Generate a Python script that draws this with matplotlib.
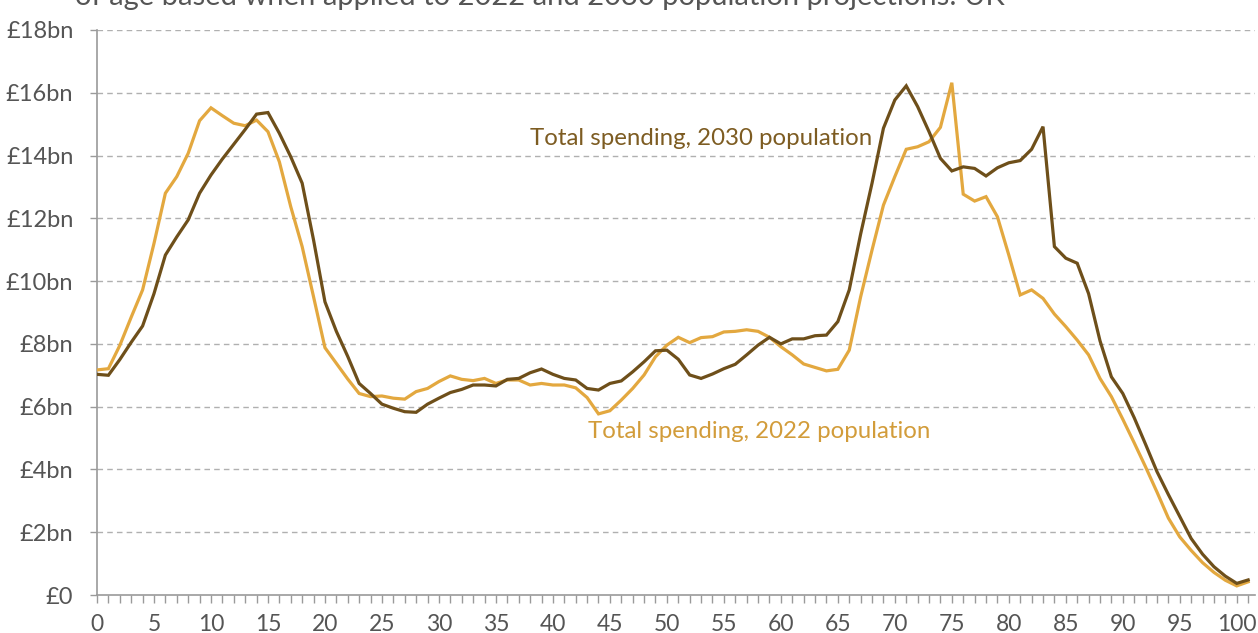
import matplotlib
matplotlib.use("Agg")
import matplotlib.pyplot as plt
import numpy as np

ages = list(range(0, 102))

spend_2030 = [7.03, 7.0, 7.5, 8.05, 8.57, 9.6, 10.83, 11.41, 11.95, 12.8,
              13.38, 13.89, 14.36, 14.83, 15.32, 15.37, 14.71, 13.96, 13.12, 11.31,
              9.34, 8.4, 7.6, 6.74, 6.42, 6.08, 5.95, 5.84, 5.82, 6.08,
              6.27, 6.45, 6.55, 6.69, 6.69, 6.66, 6.87, 6.9, 7.08, 7.2,
              7.03, 6.9, 6.85, 6.58, 6.53, 6.74, 6.82, 7.11, 7.43, 7.78,
              7.8, 7.51, 7.01, 6.9, 7.04, 7.21, 7.35, 7.65, 7.96, 8.21,
              8.0, 8.16, 8.16, 8.26, 8.28, 8.71, 9.72, 11.5, 13.12, 14.87,
              15.77, 16.22, 15.56, 14.76, 13.91, 13.51, 13.64, 13.59, 13.35, 13.61,
              13.77, 13.84, 14.2, 14.92, 11.1, 10.73, 10.57, 9.6, 8.1, 6.95,
              6.42, 5.65, 4.8, 3.93, 3.2, 2.5, 1.8, 1.3, 0.9, 0.6,
              0.37, 0.48]

spend_2022 = [7.17, 7.21, 7.95, 8.85, 9.72, 11.2, 12.8, 13.33, 14.07, 15.11,
              15.52, 15.27, 15.03, 14.95, 15.13, 14.76, 13.8, 12.37, 11.1, 9.5,
              7.88, 7.38, 6.88, 6.42, 6.32, 6.34, 6.27, 6.24, 6.48, 6.58,
              6.8, 6.98, 6.87, 6.83, 6.9, 6.74, 6.85, 6.85, 6.69, 6.74,
              6.69, 6.69, 6.6, 6.29, 5.77, 5.87, 6.21, 6.58, 7.01, 7.59,
              7.96, 8.21, 8.04, 8.2, 8.23, 8.38, 8.4, 8.45, 8.4, 8.21,
              7.91, 7.65, 7.36, 7.25, 7.14, 7.19, 7.8, 9.5, 10.99, 12.42,
              13.33, 14.2, 14.28, 14.44, 14.9, 16.32, 12.77, 12.55, 12.69, 12.05,
              10.83, 9.56, 9.72, 9.45, 8.95, 8.55, 8.12, 7.65, 6.9, 6.32,
              5.6, 4.85, 4.08, 3.28, 2.45, 1.85, 1.42, 1.03, 0.72, 0.47,
              0.29, 0.42]

y_ticks = [0, 2, 4, 6, 8, 10, 12, 14, 16, 18]
y_labels = ["£0", "£2bn", "£4bn", "£6bn", "£8bn", "£10bn", "£12bn", "£14bn", "£16bn", "£18bn"]
x_major = list(range(0, 101, 5))

label_2030 = "Total spending, 2030 population"
label_2022 = "Total spending, 2022 population"
title_text = "of age based when applied to 2022 and 2030 population projections: UK"

c_dark = "#6e4f1a"
c_light = "#e3a83f"
c_dark_txt = "#7d5c22"
c_light_txt = "#d29c3a"
c_axis = "#9a9a9a"
c_tick_txt = "#555555"

plt.rcParams['font.family'] = ['Lato', 'DejaVu Sans']

fig = plt.figure(figsize=(12.58, 6.33), dpi=100)
ax = fig.add_axes([97/1258, 1 - 595/633, (1255 - 97)/1258, (595 - 30)/633])

ax.plot(ages, spend_2022, color=c_light, lw=2.3, solid_joinstyle='miter', zorder=3)
ax.plot(ages, spend_2030, color=c_dark, lw=2.3, solid_joinstyle='miter', zorder=4)

ax.set_xlim(0, 101.6)
ax.set_ylim(0, 18)
ax.set_yticks(y_ticks)
ax.set_yticklabels(y_labels)
ax.set_xticks(x_major)
ax.set_xticks(ages, minor=True)

for v in y_ticks[1:]:
    ax.axhline(v, color="#b0b0b0", lw=1.0, ls=(0, (4, 3)), zorder=1)

for s in ["top", "right"]:
    ax.spines[s].set_visible(False)
for s in ["left", "bottom"]:
    ax.spines[s].set_color(c_axis)
    ax.spines[s].set_linewidth(1.2)

ax.tick_params(axis='y', which='major', direction='out', length=5, width=1, color=c_axis,
               labelsize=17, labelcolor=c_tick_txt, pad=12)
ax.tick_params(axis='x', which='both', direction='out', length=6, width=1, color=c_axis,
               labelsize=16.5, labelcolor=c_tick_txt, pad=8)

ax.text(38.0, 14.55, label_2030, color=c_dark_txt, fontsize=17.3,
        va='center', ha='left')
ax.text(43.1, 5.22, label_2022, color=c_light_txt, fontsize=17.3,
        va='center', ha='left')

fig.text(75/1258, 1 - 5/633, title_text, color=c_tick_txt, fontsize=21,
         va='baseline', ha='left')

fig.savefig("out.png", dpi=100)
